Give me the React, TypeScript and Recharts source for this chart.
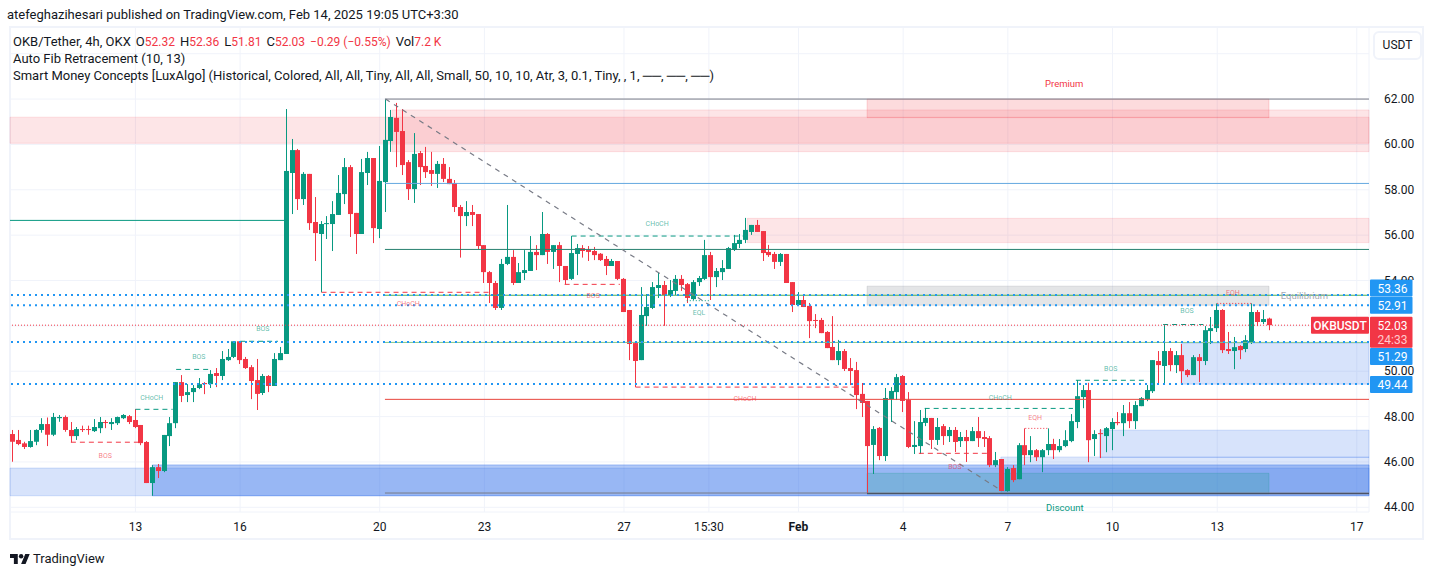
import React from "react";
import { ComposedChart, Bar, XAxis, YAxis, CartesianGrid, ReferenceArea, ReferenceLine, ReferenceDot } from "recharts";

const opens = [
47.23,46.97,46.82,46.66,46.89,47.41,47.67,47.20,47.93,47.98,47.41,47.14,47.45,47.45,47.36,47.49,47.76,47.67,47.71,47.93,
48.02,47.85,47.63,46.88,45.07,45.77,45.60,47.14,47.71,49.52,48.95,49.08,49.26,49.48,49.43,49.92,49.79,50.49,50.63,51.32,
50.54,50.18,49.61,49.04,49.79,49.35,50.49,50.76,58.74,59.75,57.59,58.70,56.58,56.05,56.49,56.49,56.89,57.81,59.00,56.98,
56.05,58.74,59.40,56.27,58.34,60.15,61.17,60.59,59.22,58.03,59.62,59.05,58.87,58.70,59.14,58.48,58.30,57.24,56.84,57.02,
56.93,55.56,54.37,53.89,52.79,54.73,55.04,53.89,54.33,54.42,55.26,55.12,56.05,55.26,55.56,54.64,54.07,55.17,55.43,55.37,
55.30,55.18,54.95,54.64,54.86,54.07,52.70,51.24,50.49,52.43,52.79,53.67,53.80,53.36,53.54,54.07,53.84,53.18,53.93,54.07,
55.12,54.15,54.37,54.51,55.35,55.61,55.79,56.14,56.45,56.18,55.26,55.17,54.82,55.17,53.93,52.92,53.14,52.88,52.26,52.26,
51.73,51.07,50.49,50.89,50.14,50.05,49.00,48.69,46.75,47.50,46.26,48.77,49.08,49.79,48.73,46.66,46.70,47.72,47.94,46.97,
47.58,47.14,47.41,46.92,47.10,46.92,47.36,47.10,47.05,45.86,46.13,44.72,45.73,45.24,46.74,46.30,46.52,46.21,46.52,46.79,
46.52,46.70,46.92,47.76,48.86,49.17,47.01,47.27,47.14,47.45,47.76,47.71,48.15,47.80,48.46,48.77,49.12,50.45,50.23,50.89,
50.27,50.71,50.05,49.83,50.62,50.45,51.77,51.90,52.70,50.98,50.89,51.11,50.98,51.28,52.61,52.17,52.32];
const highs = [
47.41,47.41,46.89,47.41,47.44,47.93,47.96,48.16,48.07,48.05,47.76,47.54,47.60,47.60,47.89,47.98,47.85,47.93,48.00,48.11,
48.07,48.33,47.63,46.92,45.86,45.91,47.19,47.98,49.52,49.83,49.43,49.39,49.70,49.52,50.05,50.14,50.89,50.98,51.32,51.32,
50.63,50.27,50.54,49.88,49.83,50.80,51.07,61.56,60.24,59.80,58.78,58.70,57.68,56.62,56.84,57.50,58.65,59.40,59.09,56.98,
59.36,59.67,59.40,59.93,61.99,61.52,61.83,61.56,59.31,60.50,59.71,59.89,59.67,59.27,59.40,59.00,58.43,57.33,57.50,57.33,
56.93,55.56,54.42,53.98,54.95,57.33,55.34,54.77,55.34,55.96,55.56,57.02,56.09,55.56,55.70,54.64,55.96,55.61,55.56,55.52,
55.48,55.21,55.08,54.95,54.86,54.11,52.70,51.29,53.71,53.40,53.93,54.33,53.98,54.02,54.24,54.24,53.89,54.02,54.20,55.79,
55.26,54.55,54.90,55.48,56.01,56.05,56.76,56.45,56.67,56.18,55.57,55.26,55.21,55.17,53.93,53.49,53.32,53.01,52.52,52.35,
51.77,52.43,51.38,50.98,50.58,50.41,49.48,48.69,47.58,47.54,49.26,49.30,49.88,49.83,49.08,47.80,48.29,48.38,47.94,47.94,
47.67,47.54,47.54,47.32,47.41,47.54,47.98,47.36,47.14,46.44,46.13,45.77,45.86,46.83,47.48,47.14,46.57,46.57,47.48,47.02,
47.01,47.40,48.11,49.61,49.39,49.49,47.40,47.45,47.54,47.93,48.20,48.51,48.64,48.68,48.86,49.39,50.49,50.89,52.06,51.02,
50.89,51.20,50.09,50.71,50.76,51.99,52.39,52.99,52.74,51.73,51.51,51.15,51.59,52.99,52.70,52.70,52.36];
const lows = [
46.01,46.74,46.57,46.63,46.74,47.29,46.70,47.14,47.77,47.33,46.86,46.97,47.32,47.20,47.32,47.27,47.49,47.41,47.63,47.89,
47.67,47.49,46.74,45.07,44.51,45.29,45.55,46.70,47.49,48.64,48.64,48.64,49.21,48.99,49.26,49.30,49.61,50.45,50.58,50.32,
50.10,48.77,48.29,48.95,49.08,49.35,50.49,50.76,56.93,57.11,57.33,56.23,54.86,53.48,55.83,55.30,56.89,57.37,55.92,55.17,
56.05,58.21,55.65,55.87,57.02,59.67,59.00,58.65,57.55,57.42,58.21,58.52,58.17,58.08,58.34,58.25,57.02,55.01,56.40,56.40,
55.39,53.89,53.01,52.70,52.70,54.68,53.80,53.89,54.02,54.42,54.46,55.12,54.73,54.51,53.93,53.83,54.02,54.24,55.01,54.86,
54.90,54.86,54.24,54.64,54.02,52.61,50.49,49.30,50.49,52.00,52.74,53.23,52.00,53.27,53.36,53.54,53.01,53.14,53.76,54.02,
53.14,53.71,54.02,54.51,55.30,55.43,55.65,56.01,56.14,54.86,55.04,54.51,54.64,53.89,52.61,52.88,52.83,51.46,51.90,51.68,
51.02,50.49,50.27,50.01,49.39,48.33,47.98,44.61,45.47,46.08,46.04,47.76,48.73,48.20,46.61,46.35,46.35,47.58,46.57,46.75,
46.75,46.88,46.44,46.66,46.00,46.92,46.66,46.66,45.77,45.77,44.72,44.69,45.11,45.24,45.86,45.99,46.04,45.55,46.30,46.13,
46.43,46.65,46.87,47.49,48.37,45.99,46.26,46.17,46.43,46.52,47.62,47.14,47.49,47.45,48.46,48.68,49.04,49.48,49.43,50.00,
49.92,49.43,49.74,49.83,49.52,50.27,51.20,51.73,50.80,50.76,50.09,50.53,50.84,51.20,51.99,52.08,51.81];
const closes = [
46.89,46.79,46.66,46.92,47.41,47.67,47.20,47.98,47.98,47.41,47.14,47.45,47.41,47.41,47.54,47.76,47.73,47.76,47.98,48.07,
47.76,47.54,46.83,45.07,45.77,45.60,47.19,47.71,49.52,48.91,49.08,49.26,49.43,49.43,49.88,49.79,50.54,50.63,51.32,50.49,
50.14,49.57,49.00,49.79,49.35,50.54,50.80,58.83,59.75,57.59,58.70,56.53,56.09,56.49,56.53,56.93,57.86,59.00,56.93,56.05,
58.78,59.40,56.31,58.39,60.20,61.21,60.55,59.09,58.03,59.58,59.00,58.78,58.70,59.14,58.48,58.25,57.24,56.84,57.02,56.89,
55.52,54.37,53.89,52.79,54.73,55.04,53.89,54.37,54.46,55.26,55.12,56.05,55.26,55.56,54.64,54.02,55.21,55.43,55.30,55.26,
55.12,54.90,54.64,54.86,54.07,52.61,51.20,50.45,52.48,52.83,53.71,53.80,53.36,53.58,54.07,53.80,53.23,53.93,54.11,55.12,
54.15,54.42,54.55,55.43,55.65,55.79,56.23,56.45,56.14,55.21,55.12,54.82,55.17,53.89,52.92,53.14,52.83,52.21,52.23,51.68,
51.02,50.49,50.89,50.10,50.01,48.95,48.60,46.70,47.45,46.26,48.82,49.13,49.74,48.69,46.66,46.75,47.76,47.94,46.97,47.54,
47.14,47.41,46.88,47.10,46.92,47.36,47.05,47.01,45.86,46.08,44.72,45.69,45.20,46.74,46.30,46.52,46.21,46.52,46.79,46.52,
46.70,46.96,47.80,48.90,49.17,46.96,47.23,47.24,47.49,47.76,47.71,48.15,47.80,48.51,48.81,49.17,50.49,50.27,50.89,50.27,
50.71,50.00,49.83,50.62,50.45,51.81,51.90,52.70,50.93,50.89,51.06,50.93,51.37,52.61,52.17,52.30,52.03];

const xTickPositions = [21, 39, 63, 81, 105, 119.6, 135, 153, 171, 189, 207, 231];
const xTickLabels = ["13", "16", "20", "23", "27", "15:30", "Feb", "4", "7", "10", "13", "17"];
const priceTicks = [44, 46, 48, 50, 52, 54, 56, 58, 60, 62, 64];
const hiddenPriceLabels = [52, 64];
const X_MIN = -0.567;
const X_MAX = 233.1;

const GREEN = "#089981";
const RED = "#f23645";
const BLUE = "#2969e9";

const zones = [
  { x1: X_MIN, x2: X_MAX, top: 61.2, bottom: 60.05, color: RED, alpha: 0.13 },
  { x1: 65.1, x2: X_MAX, top: 61.52, bottom: 59.68, color: RED, alpha: 0.13 },
  { x1: 146.8, x2: 215.9, top: 62.0, bottom: 61.18, color: RED, alpha: 0.18 },
  { x1: 126.2, x2: X_MAX, top: 56.74, bottom: 55.67, color: RED, alpha: 0.13 },
  { x1: 146.8, x2: 215.9, top: 53.75, bottom: 52.91, color: "#787b86", alpha: 0.2 },
  { x1: X_MIN, x2: X_MAX, top: 45.73, bottom: 44.51, color: BLUE, alpha: 0.19 },
  { x1: 23.9, x2: X_MAX, top: 45.87, bottom: 44.51, color: BLUE, alpha: 0.36 },
  { x1: 169.8, x2: X_MAX, top: 46.22, bottom: 44.6, color: BLUE, alpha: 0.16 },
  { x1: 186.8, x2: X_MAX, top: 47.4, bottom: 46.2, color: BLUE, alpha: 0.19 },
  { x1: 200.8, x2: X_MAX, top: 51.23, bottom: 49.43, color: BLUE, alpha: 0.19 },
  { x1: 146.8, x2: 215.9, top: 45.5, bottom: 44.6, color: GREEN, alpha: 0.2 },
];

const levels = [
  { from: X_MIN, to: 47, price: 56.65, color: GREEN },
  { from: 63.9, to: X_MAX, price: 62.0, color: "#787b86" },
  { from: 63.9, to: X_MAX, price: 58.28, color: "#64a8e0" },
  { from: 63.9, to: X_MAX, price: 55.37, color: "#26806f" },
  { from: 63.9, to: X_MAX, price: 53.35, color: "#4caf50" },
  { from: 63.9, to: X_MAX, price: 51.27, color: "#81c784" },
  { from: 63.9, to: X_MAX, price: 48.76, color: "#e8453c" },
  { from: 63.9, to: X_MAX, price: 44.63, color: "#787b86" },
  { from: 146.8, to: X_MAX, price: 44.6, color: "#434651" },
];

const structures = [
  { from: 9.9, to: 21.9, price: 46.87, color: RED, dash: "5 4" },
  { from: 21, to: 27.4, price: 48.32, color: GREEN, dash: "5 4" },
  { from: 28, to: 34, price: 50.08, color: GREEN, dash: "5 4" },
  { from: 39, to: 45.5, price: 51.32, color: GREEN, dash: "5 4" },
  { from: 53, to: 82, price: 53.48, color: RED, dash: "5 4" },
  { from: 94.8, to: 104.3, price: 53.83, color: RED, dash: "5 4" },
  { from: 96, to: 125.6, price: 55.96, color: GREEN, dash: "5 4" },
  { from: 107, to: 145.4, price: 49.3, color: RED, dash: "5 4" },
  { from: 156.7, to: 182.2, price: 48.36, color: GREEN, dash: "5 4" },
  { from: 155.7, to: 167.6, price: 46.38, color: RED, dash: "5 4" },
  { from: 182.7, to: 194.9, price: 49.6, color: GREEN, dash: "5 4" },
  { from: 197.7, to: 204.6, price: 52.06, color: GREEN, dash: "5 4" },
  { from: 174, to: 178, price: 47.48, color: RED, dash: "1 2" },
  { from: 207, to: 213, price: 52.99, color: RED, dash: "1 2" },
  { from: 115.8, to: 119.8, price: 53.11, color: GREEN, dash: "1 2" },
];

const tinyLabels = [
  { text: "BOS", x: 15.8, price: 46.3, color: RED },
  { text: "CHoCH", x: 23.8, price: 48.86, color: GREEN },
  { text: "BOS", x: 31.9, price: 50.63, color: GREEN },
  { text: "BOS", x: 42.9, price: 51.9, color: GREEN },
  { text: "CHoCH", x: 67.9, price: 53.0, color: RED },
  { text: "BOS", x: 99.7, price: 53.32, color: RED },
  { text: "CHoCH", x: 110.7, price: 56.5, color: GREEN },
  { text: "CHoCH", x: 125.8, price: 48.78, color: RED },
  { text: "CHoCH", x: 169.7, price: 48.86, color: GREEN },
  { text: "BOS", x: 161.9, price: 45.82, color: RED },
  { text: "BOS", x: 188.7, price: 50.14, color: GREEN },
  { text: "BOS", x: 201.8, price: 52.66, color: GREEN },
  { text: "EQH", x: 175.7, price: 47.98, color: RED },
  { text: "EQH", x: 209.7, price: 53.49, color: RED },
  { text: "EQL", x: 117.9, price: 52.61, color: GREEN },
];

const zoneNames = [
  { text: "Premium", x: 180.7, price: 62.66, color: RED },
  { text: "Equilibrium", x: 222, price: 53.32, color: "#a8aab2" },
  { text: "Discount", x: 180.8, price: 43.97, color: GREEN },
];

const priceTags = [
  { price: 53.36, text: "53.36", shift: -7, color: "#2196f3" },
  { price: 52.91, text: "52.91", shift: 0, color: "#2196f3" },
  { price: 51.29, text: "51.29", shift: 14.5, color: "#2196f3" },
  { price: 49.44, text: "49.44", shift: 0.5, color: "#2196f3" },
];

const diagonal = [{ x: 64, y: 62.0 }, { x: 170, y: 44.72 }];
const lastPrice = 52.03;
const countdown = "24:33";
const symbolTag = "OKBUSDT";
const headerValues = [
  { label: "O", value: "52.32" },
  { label: "H", value: "52.36" },
  { label: "L", value: "51.81" },
  { label: "C", value: "52.03" },
  { label: "", value: "−0.29 (−0.55%)" },
  { label: "Vol", value: "7.2 K" },
];

const rows = opens.map((open, i) => ({
  idx: i,
  open,
  high: highs[i],
  low: lows[i],
  close: closes[i],
  range: [lows[i], highs[i]],
}));

const FONT = "Roboto, sans-serif";

function Candle(props: any) {
  const { x, y, width, height, payload } = props;
  if (payload == null) return null;
  const top = Math.min(y, y + height);
  const span = Math.abs(height);
  const perUnit = span / (payload.high - payload.low);
  const up = payload.close >= payload.open;
  const color = up ? GREEN : RED;
  const bodyHigh = Math.max(payload.open, payload.close);
  const bodyLow = Math.min(payload.open, payload.close);
  const bodyTop = top + (payload.high - bodyHigh) * perUnit;
  const bodyHeight = Math.max(1, (bodyHigh - bodyLow) * perUnit);
  const wickX = Math.round(x + width / 2 - 0.5);
  return (
    <g>
      <rect x={wickX} y={top} width={1} height={span} fill={color} />
      <rect x={wickX - 2} y={bodyTop} width={5} height={bodyHeight} fill={color} />
    </g>
  );
}

function XTick(props: any) {
  const { x, y, payload } = props;
  const i = xTickPositions.indexOf(payload.value);
  const label = xTickLabels[i];
  return (
    <text x={x} y={y + 3} textAnchor="middle" fontFamily={FONT} fontSize={12} fill="#131722" fontWeight={label === "Feb" ? 700 : 400}>
      {label}
    </text>
  );
}

function YTick(props: any) {
  const { x, y, payload } = props;
  const v = payload.value;
  if (hiddenPriceLabels.includes(v)) return null;
  return (
    <text x={x} y={y + 4} textAnchor="start" fontFamily={FONT} fontSize={12} fill="#131722" clipPath={v === 54 ? "url(#tick54clip)" : undefined}>
      {v.toFixed(2)}
    </text>
  );
}

function tagRenderer(text: string, shift: number, color: string) {
  return (p: any) => {
    const cy = p.viewBox.y + shift;
    return (
      <g>
        <rect x={1370} y={cy - 8.5} width={42.5} height={17} fill={color} rx={1} />
        <text x={1392.5} y={cy + 4.5} textAnchor="middle" fontFamily={FONT} fontSize={12} fill="#ffffff">{text}</text>
      </g>
    );
  };
}

function lastPriceTag(p: any) {
  const cy = p.viewBox.y;
  return (
    <g>
      <rect x={1311} y={cy - 8.5} width={58} height={17} fill={RED} rx={1} />
      <text x={1340} y={cy + 4.5} textAnchor="middle" fontFamily={FONT} fontSize={12} fontWeight={500} fill="#ffffff">{symbolTag}</text>
      <rect x={1370} y={cy - 8.5} width={42.5} height={31} fill={RED} rx={1} />
      <text x={1392.5} y={cy + 4.5} textAnchor="middle" fontFamily={FONT} fontSize={12} fill="#ffffff">{lastPrice.toFixed(2)}</text>
      <text x={1392.5} y={cy + 19} textAnchor="middle" fontFamily={FONT} fontSize={12} fill="#ffc9cd">{countdown}</text>
    </g>
  );
}

export default function App() {
  const red = { color: RED, fontSize: 12 };
  return (
    <div style={{ position: "fixed", left: 0, top: 0, width: 1433, height: 576, background: "#fff", overflow: "hidden", fontFamily: FONT, color: "#131722" }}>
      <div style={{ position: "absolute", left: 9, top: 26, width: 1411, height: 510, border: "2px solid #f0f3fa" }} />
      <div style={{ position: "absolute", left: 0, top: 0 }}>
        <ComposedChart width={1433} height={576} data={rows} margin={{ top: 27, left: 10, right: 0, bottom: 34 }}>
          <defs>
            <clipPath id="tick54clip">
              <rect x={1370} y={260} width={60} height={20} />
            </clipPath>
          </defs>
          <CartesianGrid stroke="#f0f3fa" strokeWidth={1} />
          <XAxis
            dataKey="idx"
            type="number"
            domain={[X_MIN, X_MAX]}
            allowDataOverflow
            ticks={xTickPositions}
            interval={0}
            height={30}
            axisLine={false}
            tickLine={false}
            tick={<XTick />}
            tickMargin={10}
          />
          <YAxis
            orientation="right"
            type="number"
            domain={[43.793, 65.177]}
            allowDataOverflow
            ticks={priceTicks}
            interval={0}
            width={64}
            axisLine={false}
            tickLine={false}
            tick={<YTick />}
            tickMargin={9}
          />
          {zones.map((z, i) => (
            <ReferenceArea key={"z" + i} x1={z.x1} x2={z.x2} y1={z.bottom} y2={z.top} fill={z.color} fillOpacity={z.alpha} stroke={z.color} strokeOpacity={z.alpha} />
          ))}
          {levels.map((l, i) => (
            <ReferenceLine key={"l" + i} segment={[{ x: l.from, y: l.price }, { x: l.to, y: l.price }]} stroke={l.color} strokeWidth={1} />
          ))}
          {structures.map((s, i) => (
            <ReferenceLine key={"s" + i} segment={[{ x: s.from, y: s.price }, { x: s.to, y: s.price }]} stroke={s.color} strokeWidth={1} strokeDasharray={s.dash} />
          ))}
          <ReferenceLine segment={diagonal} stroke="#787b86" strokeWidth={1.2} strokeDasharray="5 5" />
          {priceTags.map((t, i) => (
            <ReferenceLine key={"t" + i} y={t.price} stroke={t.color} strokeWidth={2} strokeDasharray="2 4" label={tagRenderer(t.text, t.shift, t.color)} />
          ))}
          <ReferenceLine y={lastPrice} stroke={RED} strokeWidth={1} strokeDasharray="1 2" label={lastPriceTag} />
          {tinyLabels.map((t, i) => (
            <ReferenceDot key={"tl" + i} x={t.x} y={t.price} r={0} fill="none" stroke="none"
              label={{ value: t.text, position: "center", fontSize: 7, fontFamily: FONT, fill: t.color, fillOpacity: 0.65 }} />
          ))}
          {zoneNames.map((t, i) => (
            <ReferenceDot key={"zn" + i} x={t.x} y={t.price} r={0} fill="none" stroke="none"
              label={{ value: t.text, position: "center", fontSize: 9.5, fontFamily: FONT, fill: t.color }} />
          ))}
          <Bar dataKey="range" barSize={5} isAnimationActive={false} shape={<Candle />} />
        </ComposedChart>
      </div>
      <div style={{ position: "absolute", left: 7, top: 7, fontSize: 13, whiteSpace: "nowrap" }}>atefeghazihesari published on TradingView.com, Feb 14, 2025 19:05 UTC+3:30</div>
      <div style={{ position: "absolute", left: 13, top: 34, fontSize: 13, whiteSpace: "nowrap" }}>
        OKB/Tether, 4h, OKX
        {headerValues.map((h, i) => (
          <span key={i} style={{ marginLeft: 5 }}>{h.label}<span style={red}>{h.value}</span></span>
        ))}
      </div>
      <div style={{ position: "absolute", left: 13, top: 51, fontSize: 13, whiteSpace: "nowrap" }}>Auto Fib Retracement (10, 13)</div>
      <div style={{ position: "absolute", left: 13, top: 68, fontSize: 13, whiteSpace: "nowrap" }}>Smart Money Concepts [LuxAlgo] (Historical, Colored, All, All, Tiny, All, All, Small, 50, 10, 10, Atr, 3, 0.1, Tiny, , 1, ──, ──, ──)</div>
      <div style={{ position: "absolute", left: 1373, top: 31, width: 45, height: 25, border: "2px solid #f0f3fa", borderRadius: 6, boxSizing: "content-box", fontSize: 12, textAlign: "center", lineHeight: "25px" }}>USDT</div>
      <svg style={{ position: "absolute", left: 10, top: 550 }} width={20} height={16} viewBox="0 0 36 28">
        <path d="M14 25H7V14H0V7h14v18zM28 25h-8l7.5-18h8L28 25z" fill="#131722" />
        <circle cx="20" cy="11" r="4" fill="#131722" />
      </svg>
      <div style={{ position: "absolute", left: 33, top: 551, fontSize: 13, whiteSpace: "nowrap" }}>TradingView</div>
    </div>
  );
}
